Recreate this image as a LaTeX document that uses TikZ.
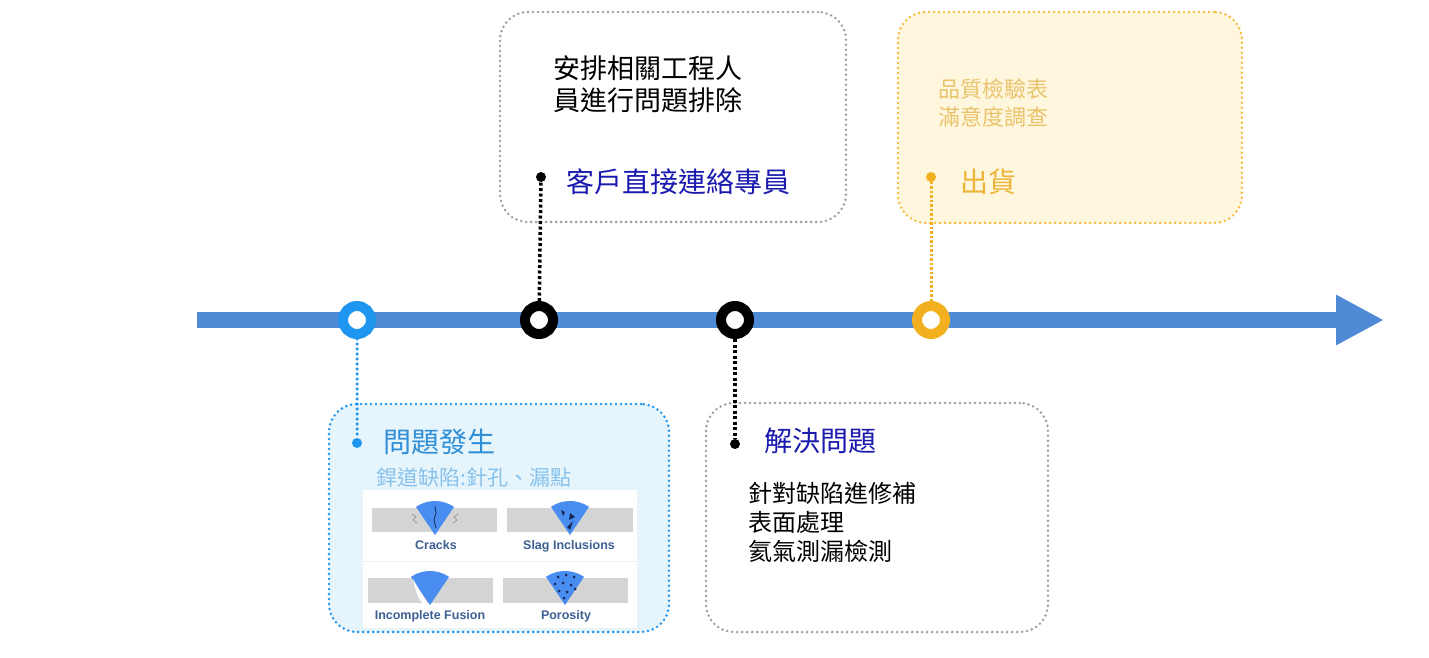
\documentclass[tikz,border=0pt]{standalone}
\usepackage{fontspec}
\setmainfont{Noto Sans CJK TC}
\newfontfamily\labfont{Liberation Sans}
\usetikzlibrary{positioning,arrows.meta}
\definecolor{lineblue}{HTML}{4F8AD6}
\definecolor{ringblue}{HTML}{1E96F0}
\definecolor{ringgold}{HTML}{F2B01E}
\definecolor{boxblue}{HTML}{E6F4FB}
\definecolor{boxgold}{HTML}{FFF6DE}
\definecolor{dotgray}{HTML}{9E9E9E}
\definecolor{darkblue}{HTML}{1A1AAE}
\definecolor{titleblue}{HTML}{2F8ED8}
\definecolor{subblue}{HTML}{86C2EC}
\definecolor{goldtext}{HTML}{E9C46C}
\definecolor{goldtitle}{HTML}{EDB436}
\definecolor{weldblue}{HTML}{4A8DF0}
\definecolor{bargray}{HTML}{D4D4D4}
\definecolor{labblue}{HTML}{3D5F93}
\definecolor{slagnavy}{HTML}{14285A}
\tikzset{
  ring/.style={circle, draw=#1, line width=10pt, fill=white, minimum size=28pt, inner sep=0pt},
  dot/.style={circle, fill=#1, minimum size=10pt, inner sep=0pt},
  stagebox/.style={rounded corners=28pt, line width=2.8pt, line cap=round, dash pattern=on 0pt off 5pt, minimum width=#1, inner sep=0pt},
  txt/.style={inner sep=0pt, anchor=west, align=left},
  wlabel/.style={inner sep=0pt, anchor=base, font=\labfont\bfseries\fontsize{12.5}{12.5}\selectfont, text=labblue},
}
% one weld bead, apex at #1,#2
\newcommand{\weldbead}[2]{\fill[weldblue] (#1,#2) -- ++(-56:34) arc[start angle=-56, end angle=-124, radius=34] -- cycle;}
\begin{document}
\begin{tikzpicture}[x=1pt,y=-1pt]
\useasboundingbox (0,0) rectangle (1429,658);
% boxes
\node[stagebox=340pt, draw=ringblue, fill=boxblue, minimum height=228pt] (probbox) at (499,518) {};
\node[stagebox=346pt, draw=dotgray, fill=white, minimum height=210pt] (callbox) at (673,117) {};
\node[stagebox=342pt, draw=dotgray, fill=white, minimum height=229pt] (fixbox) at (877,517.5) {};
\node[stagebox=344pt, draw=ringgold!85, fill=boxgold, minimum height=211pt] (shipbox) at (1070,117.5) {};
% time line
\draw[lineblue, line width=16pt, -{Triangle[length=48pt,width=47pt]}] (197,320) -- (1384,320);
\node[ring=ringblue] (c1) at (357,320) {};
\node[ring=black] (c2) at (539,320) {};
\node[ring=black] (c3) at (735,320) {};
\node[ring=ringgold] (c4) at (931,320) {};
\node[dot=ringblue] (d1) at (357,443) {};
\node[dot=black] (d2) at (541,177) {};
\node[dot=black] (d3) at (735,444) {};
\node[dot=ringgold] (d4) at (931,177) {};
\draw[ringblue, line width=3.5pt, line cap=round, dash pattern=on 0pt off 5pt] (c1) -- (d1);
\draw[black, line width=3.5pt, dash pattern=on 3pt off 2.5pt] (c2) -- (d2);
\draw[black, line width=3.5pt, dash pattern=on 3pt off 2.5pt] (c3) -- (d3);
\draw[ringgold, line width=3pt, dash pattern=on 2.5pt off 2pt] (c4) -- (d4);
% texts
\node[txt, text=titleblue, font=\fontsize{28}{32}\selectfont] (probtitle) at (383,442) {問題發生};
\node[txt, text=subblue, font=\fontsize{21}{25}\selectfont] (probsub) at (376,477) {銲道缺陷:針孔、漏點};
\node[txt, font=\fontsize{27}{32}\selectfont] (callbody) at (553,84) {安排相關工程人\\員進行問題排除};
\node[txt, text=darkblue, font=\fontsize{28}{32}\selectfont] (calltitle) at (566,182) {客戶直接連絡專員};
\node[txt, text=darkblue, font=\fontsize{28}{32}\selectfont] (fixtitle) at (764,441) {解決問題};
\node[txt, font=\fontsize{24}{29}\selectfont] (fixbody) at (748,522) {針對缺陷進修補\\表面處理\\氦氣測漏檢測};
\node[txt, text=goldtext, font=\fontsize{22}{28}\selectfont] (shipbody) at (938,103) {品質檢驗表\\滿意度調查};
\node[txt, text=goldtitle, font=\fontsize{28}{32}\selectfont] (shiptitle) at (960,182) {出貨};
% weld defects panel
\fill[white] (363,490) rectangle (637,628);
\draw[black!6, line width=1pt] (363,561) -- (637,561);
\fill[bargray] (372,508) rectangle (497,532);
\fill[bargray] (507,508) rectangle (633,532);
\fill[bargray] (368,578) rectangle (493,603);
\fill[bargray] (503,578) rectangle (628,603);
\weldbead{435}{535}
\weldbead{570}{535}
\weldbead{430}{605}
\weldbead{565}{605}
\draw[slagnavy, line width=0.8pt] (435,506) -- (436,513) -- (434,520) -- (436,528);
\draw[black!45, line width=0.6pt] (412,514) -- (416,517) -- (413,520) -- (417,523);
\draw[black!45, line width=0.6pt] (458,514) -- (454,517) -- (457,520) -- (453,523);
\fill[slagnavy] (561,510) -- (565,512) -- (563,516) -- cycle;
\fill[slagnavy] (570,513) -- (575,517) -- (569,520) -- cycle;
\fill[slagnavy] (573,521) -- (570,530) -- (567,527) -- cycle;
\fill[white] (413,579) .. controls (419,590) .. (428,604) -- (423,604) .. controls (417,596) .. (413,579);
\foreach \px/\py in {558/577, 566/575, 574/577, 555/584, 563/583, 571/585, 559/591, 567/592, 575/589, 564/598}
  \fill[slagnavy] (\px,\py) circle (1.5);
\node[wlabel] (cracks) at (436,549.5) {Cracks};
\node[wlabel] (slag) at (569,549.5) {Slag Inclusions};
\node[wlabel] (fusion) at (430,619.5) {Incomplete Fusion};
\node[wlabel] (poro) at (566,619.5) {Porosity};
\end{tikzpicture}
\end{document}
